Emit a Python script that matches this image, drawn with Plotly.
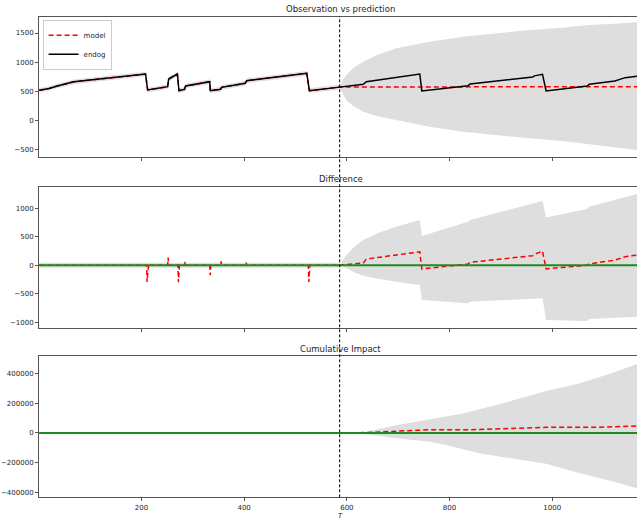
import numpy as np
import plotly.graph_objects as go

# ---------------- data ----------------
t_pre = [1, 20, 36, 68, 208, 212, 251, 253, 270, 273, 284, 286, 333, 334, 354, 356, 402, 405, 522, 527, 586]
endog_pre = [520, 550, 594, 665, 799, 526, 582, 714, 799, 514, 537, 594, 668, 514, 537, 572, 640, 685, 811, 514, 575]
model_pre = [520, 550, 594, 665, 799, 526, 582, 714, 799, 514, 537, 594, 668, 514, 537, 572, 640, 685, 811, 514, 575]

t_post = [586, 632, 638, 742, 746, 836, 840, 962, 965, 981, 988, 1068, 1072, 1122, 1142, 1165]
endog_post = [575, 623, 668, 799, 509, 600, 628, 748, 768, 794, 509, 594, 623, 679, 737, 762]

t_model_post = [586, 700, 850, 1000, 1165]
model_post = [578, 580, 584, 582, 580]

t_diff_pre = [1, 210, 211, 213, 214, 215, 251, 252, 253, 271, 272, 274, 284, 285, 286,
              333, 334, 335, 354, 355, 356, 403, 404, 405, 525, 526, 528, 586]
diff_pre = [0, 0, -293, 0, 20, 0, 0, 135, 0, 0, -300, 0, 0, 58, 0,
            0, -175, 0, 0, 70, 0, 0, 47, 0, 0, -293, 0, 0]
diff_post = [0, 40, 109, 235, -65, 21, 51, 168, 190, 248, -65, 0, 23, 90, 150, 178]

# top panel prediction interval (post period)
t_band_top = [586, 592, 599, 612, 632, 660, 696, 761, 826, 891, 955, 1020, 1072, 1120, 1165]
band_top_up = [590, 690, 782, 900, 1010, 1130, 1238, 1352, 1437, 1494, 1551, 1591, 1637, 1660, 1685]
band_top_lo = [560, 460, 355, 250, 155, 75, 13, -102, -187, -244, -300, -346, -400, -450, -502]
pre_halfwidth_top = 40

# middle panel interval (post period)
t_band_mid = [586, 599, 615, 632, 660, 696, 742, 746, 836, 840, 981, 988, 1068, 1072, 1165]
band_mid_up = [10, 180, 330, 443, 560, 678, 795, 514, 766, 795, 1129, 837, 988, 1030, 1250]
band_mid_lo = [-10, -55, -130, -185, -240, -290, -348, -612, -671, -642, -583, -964, -980, -946, -905]
pre_halfwidth_mid = 45

# bottom panel: cumulative impact and interval
t_cum = [1, 586, 620, 664, 696, 742, 761, 836, 891, 988, 1085, 1165]
cum = [0, 0, 800, 6700, 13000, 20000, 22000, 21500, 27000, 38000, 38000, 47000]
t_cum_up = [1, 586, 610, 632, 696, 761, 826, 891, 955, 988, 1052, 1117, 1165]
cum_up = [2500, 2500, 3000, 5000, 52000, 91000, 131000, 187000, 253000, 282000, 331000, 402000, 462000]
t_cum_lo = [1, 586, 610, 632, 696, 761, 793, 858, 923, 988, 1052, 1117, 1165]
cum_lo = [-2500, -2500, -3000, -7000, -36000, -58000, -80000, -136000, -169000, -207000, -269000, -324000, -371000]

intervention = 586
x_ticks = [200, 400, 600, 800, 1000]
y1_ticks = [-500, 0, 500, 1000, 1500]
y2_ticks = [-1000, -500, 0, 500, 1000]
y3_ticks = [-400000, -200000, 0, 200000, 400000]

def lab(v):
    return str(v).replace("-", "\u2212")

# ---------------- assembled series ----------------
t_model = t_pre + t_model_post[1:]
model = model_pre + model_post[1:]
t_endog = t_pre + t_post[1:]
endog = endog_pre + endog_post[1:]
t_diff = t_diff_pre + t_post[1:]
diff = diff_pre + diff_post[1:]

BAND = "#dedede"
RED = "#ff0000"
GREEN = "#1f8a1f"
FONT = "DejaVu Sans"
TXT = "#262626"

fig = go.Figure()

# ---- top panel ----
up_pre = [v + pre_halfwidth_top for v in model_pre]
lo_pre = [v - pre_halfwidth_top for v in model_pre]
bx = t_pre + t_band_top + t_band_top[::-1] + t_pre[::-1]
by = up_pre + band_top_up + band_top_lo[::-1] + lo_pre[::-1]
fig.add_trace(go.Scatter(x=bx, y=by, fill="toself", fillcolor=BAND, line=dict(width=0),
                         mode="lines", showlegend=False, hoverinfo="skip", xaxis="x", yaxis="y"))
fig.add_trace(go.Scatter(x=t_model, y=model, mode="lines", name="model",
                         line=dict(color=RED, width=1.5, dash="5px,3px"), xaxis="x", yaxis="y"))
fig.add_trace(go.Scatter(x=t_endog, y=endog, mode="lines", name="endog",
                         line=dict(color="black", width=1.5), xaxis="x", yaxis="y"))

# ---- middle panel ----
bx = [t_diff_pre[0], t_diff_pre[-1]] + t_band_mid + t_band_mid[::-1] + [t_diff_pre[-1], t_diff_pre[0]]
by = [pre_halfwidth_mid, pre_halfwidth_mid] + band_mid_up + band_mid_lo[::-1] + [-pre_halfwidth_mid, -pre_halfwidth_mid]
fig.add_trace(go.Scatter(x=bx, y=by, fill="toself", fillcolor=BAND, line=dict(width=0),
                         mode="lines", showlegend=False, hoverinfo="skip", xaxis="x2", yaxis="y2"))
fig.add_trace(go.Scatter(x=t_diff, y=diff, mode="lines", showlegend=False,
                         line=dict(color=RED, width=1.5, dash="5px,3px"), xaxis="x2", yaxis="y2"))
fig.add_trace(go.Scatter(x=[t_diff[0], t_diff[-1]], y=[0, 0], mode="lines", showlegend=False,
                         line=dict(color=GREEN, width=2), xaxis="x2", yaxis="y2"))

# ---- bottom panel ----
bx = t_cum_up + t_cum_lo[::-1]
by = cum_up + cum_lo[::-1]
fig.add_trace(go.Scatter(x=bx, y=by, fill="toself", fillcolor=BAND, line=dict(width=0),
                         mode="lines", showlegend=False, hoverinfo="skip", xaxis="x3", yaxis="y3"))
fig.add_trace(go.Scatter(x=t_cum, y=cum, mode="lines", showlegend=False,
                         line=dict(color=RED, width=1.5, dash="5px,3px"), xaxis="x3", yaxis="y3"))
fig.add_trace(go.Scatter(x=[t_cum[0], t_cum[-1]], y=[0, 0], mode="lines", showlegend=False,
                         line=dict(color=GREEN, width=2), xaxis="x3", yaxis="y3"))

xr = [0.5, 1165]
ax_common = dict(showline=True, linecolor="#555555", linewidth=1, ticks="outside", ticklen=3,
                 tickcolor="#555555", showgrid=False, zeroline=False, automargin=False,
                 tickfont=dict(family=FONT, size=7, color=TXT))

dom = {1: [0.6981, 0.9679], 2: [0.3710, 0.6417], 3: [0.0455, 0.3167]}
yr = {1: [-625, 1779], 2: [-1099, 1381], 3: [-431000, 516000]}
yt = {1: y1_ticks, 2: y2_ticks, 3: y3_ticks}

layout = dict(width=637, height=521, margin=dict(l=39, r=0, t=0, b=0, autoexpand=False),
              plot_bgcolor="white", paper_bgcolor="white",
              font=dict(family=FONT, size=7, color=TXT),
              showlegend=True,
              legend=dict(x=0.006, y=0.962, xanchor="left", yanchor="top",
                          bgcolor="rgba(255,255,255,0.8)", bordercolor="#cccccc", borderwidth=1,
                          font=dict(family=FONT, size=7, color=TXT), itemwidth=30,
                          tracegroupgap=0))
for i in (1, 2, 3):
    xs = "xaxis" if i == 1 else f"xaxis{i}"
    ys = "yaxis" if i == 1 else f"yaxis{i}"
    layout[xs] = dict(ax_common, domain=[0, 1], range=xr, anchor=("y" if i == 1 else f"y{i}"),
                      mirror=True, tickvals=x_ticks, ticktext=[lab(v) for v in x_ticks],
                      showticklabels=(i == 3))
    if i != 1:
        layout[xs]["matches"] = "x"
    layout[ys] = dict(ax_common, domain=dom[i], range=yr[i], anchor=("x" if i == 1 else f"x{i}"),
                      tickvals=yt[i], ticktext=[lab(v) for v in yt[i]])
fig.update_layout(**layout)

# titles
titles = [("Observation vs prediction", 9.3), ("Difference", 179), ("Cumulative Impact", 348.7)]
for txt, ypx in titles:
    fig.add_annotation(text=txt, xref="paper", yref="paper", x=0.505, y=1 - ypx / 521,
                       xanchor="center", yanchor="middle", showarrow=False,
                       font=dict(family=FONT, size=8.5, color=TXT))
fig.add_annotation(text="<i>T</i>", xref="paper", yref="paper", x=(340.6 - 39) / 598, y=1 - 516 / 521,
                   xanchor="center", yanchor="middle", showarrow=False,
                   font=dict(family=FONT, size=7, color=TXT))

# intervention line spanning all panels
fig.add_shape(type="line", xref="x", yref="paper", x0=intervention, x1=intervention,
              y0=dom[3][0], y1=dom[1][1], line=dict(color="black", width=1, dash="3px,2px"))

fig.write_html("out.html", config={"displayModeBar": False},
               post_script="document.body.style.margin='0px';")
